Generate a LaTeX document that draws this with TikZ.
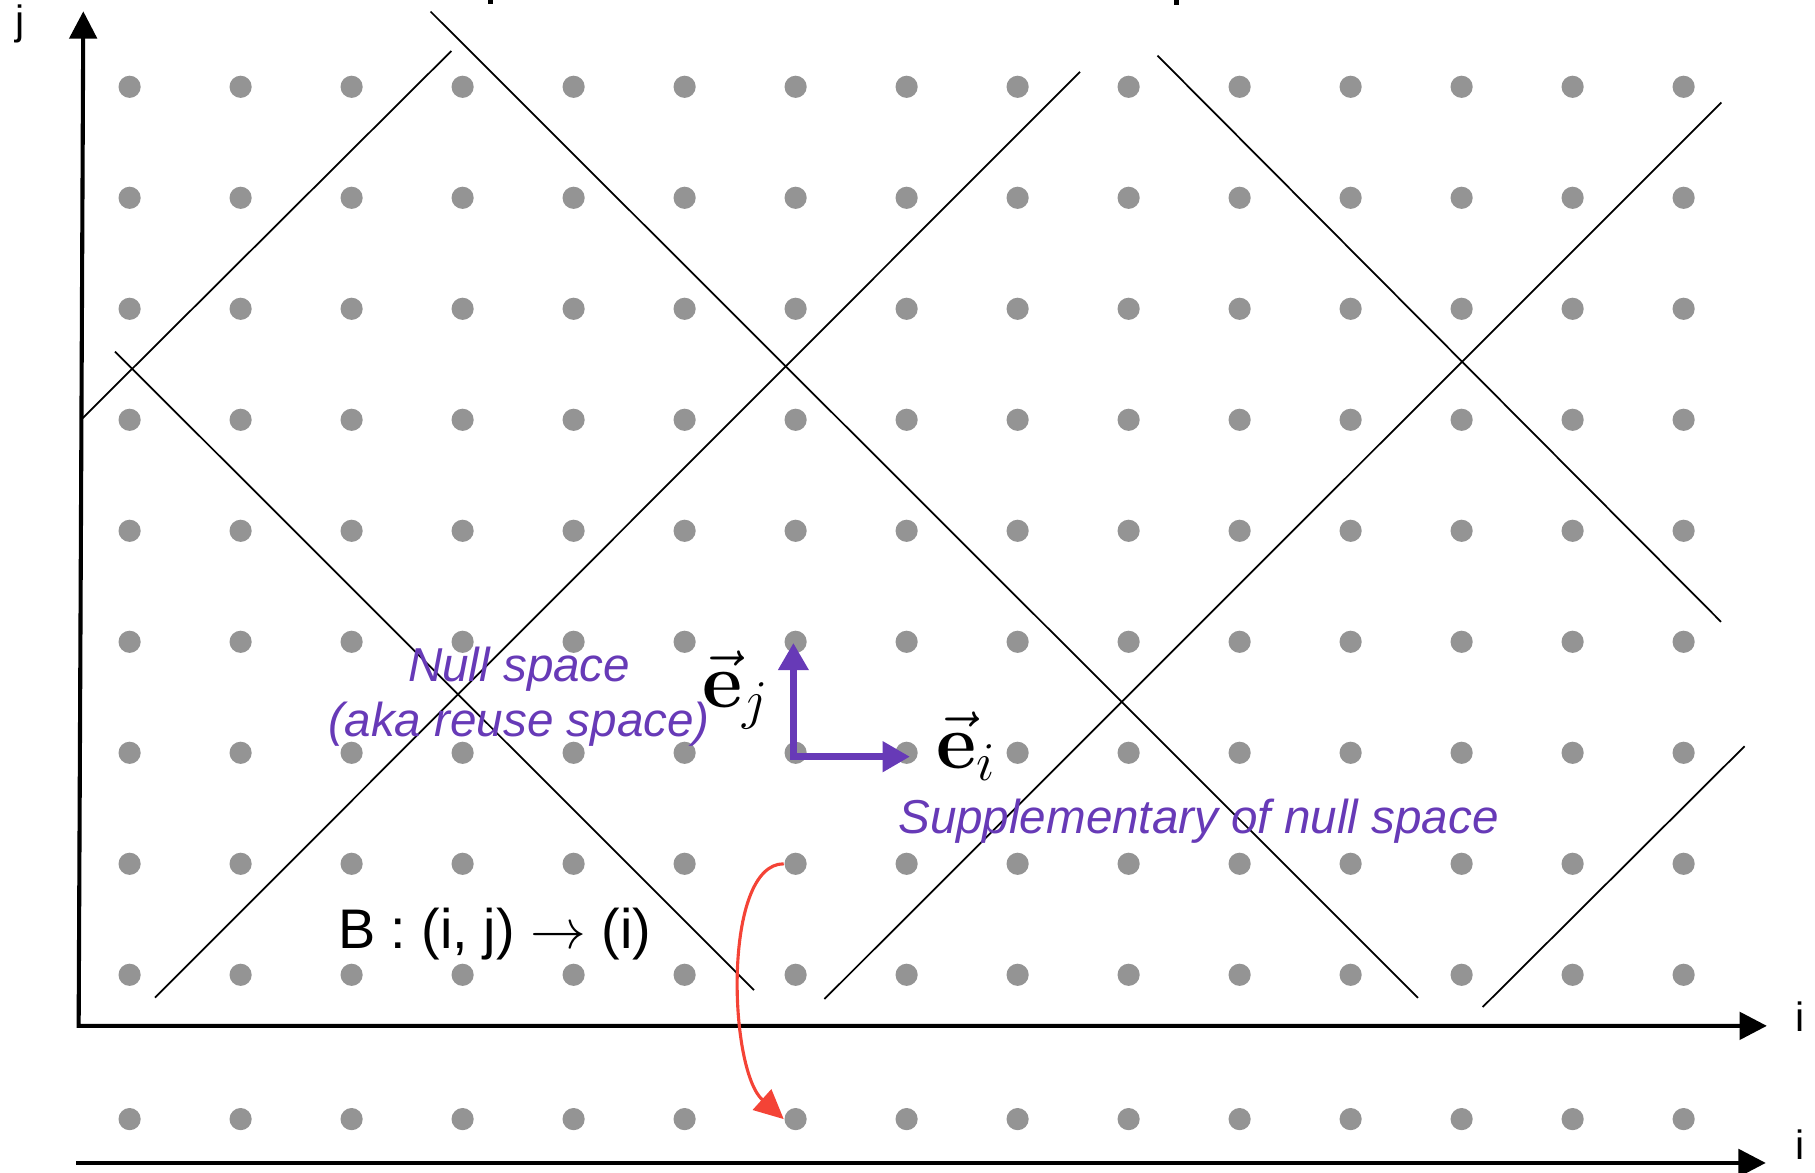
\documentclass[tikz,border=0pt]{standalone}
\usepackage{fix-cm}
\usepackage[no-math]{fontspec}
\setmainfont{Liberation Sans}
\usetikzlibrary{arrows.meta}
\definecolor{dotgray}{RGB}{148,148,148}
\definecolor{nullpurple}{RGB}{103,58,183}
\definecolor{mapred}{RGB}{244,67,54}

\begin{document}
\begin{tikzpicture}[
    dot/.style={circle, fill=dotgray, inner sep=0pt, minimum size=0.2cm},
    axis/.style={line width=1.05pt, {Triangle[length=7pt, width=7pt]}-{Triangle[length=7pt, width=7pt]}},
    axisline/.style={line width=1.05pt, -{Triangle[length=7pt, width=7pt]}},
    axislabel/.style={inner sep=0pt, font=\fontsize{10.5}{12}\selectfont},
    cut/.style={line width=0.45pt},
    basis/.style={line width=1.7pt, nullpurple, {Triangle[length=7pt, width=7.5pt]}-{Triangle[length=7pt, width=7.5pt]}},
    veclabel/.style={anchor=base west, inner sep=0pt, font=\fontsize{20}{24}\selectfont},
    purplelabel/.style={text=nullpurple, font=\fontsize{12.2}{13.9}\selectfont\itshape, align=center},
    maparrow/.style={line width=0.8pt, mapred, -{Triangle[length=7.5pt, width=7pt]}},
]
    \useasboundingbox (-1.1676,-1.7766) rectangle (15.1838,8.782);

    % Draw iteration domain
    \foreach \i in {0,...,14}
        \foreach \j in {0,...,8}
            \node[dot] (d-\i-\j) at (\i,\j) {};
    % Draw image of B
    \foreach \i in {0,...,14}
        \node[dot] (b-\i) at (\i,-1.3) {};

    % Axes
    \coordinate (O) at (-0.459,-0.46);
    \coordinate (jtip) at (-0.417,8.68);
    \coordinate (itip) at (14.75,-0.46);
    \coordinate (bstart) at (-0.479,-1.695);
    \coordinate (btip) at (14.74,-1.695);
    \draw[axis] (jtip) -- (O) -- (itip);
    \draw[axisline] (bstart) -- (btip);
    \node[axislabel, anchor=base] (jlab) at (-0.987,8.467) {j};
    \node[axislabel, anchor=base] (ilab) at (15.05,-0.515) {i};
    \node[axislabel, anchor=base] (blab) at (15.05,-1.668) {i};

    % Tiles of the null space
    \draw[cut] (2.711,8.678) -- (11.607,-0.207);
    \draw[cut] (2.899,8.323) -- (-0.432,5.006);
    \draw[cut] (8.562,8.135) -- (0.229,-0.206);
    \draw[cut] (-0.131,5.614) -- (5.625,-0.137);
    \draw[cut] (9.260,8.281) -- (14.337,3.18);
    \draw[cut] (14.34,7.858) -- (6.26,-0.218);
    \draw[cut] (14.549,2.059) -- (12.19,-0.29);

    % cut-off text above
    \fill (3.229,8.782) rectangle (3.270,8.742);
    \fill (9.41,8.782) rectangle (9.451,8.737);

    % Basis vectors
    \coordinate (eo) at (5.98,1.965);
    \coordinate (ej) at (5.98,2.99);
    \coordinate (ei) at (7.03,1.965);
    \draw[basis] (ej) -- (eo) -- (ei);
    \node[veclabel] (ejlab) at (5.15,2.41) {$\vec{\mathbf{e}}_j$};
    \node[veclabel] (eilab) at (7.26,1.86) {$\vec{\mathbf{e}}_i$};

    % Labels
    \node[purplelabel, anchor=base] (null) at (3.51,2.15) {Null space\\(aka reuse space)};
    \node[purplelabel, anchor=base] (supp) at (9.63,1.275) {Supplementary of null space};
    \node[anchor=base, inner sep=0pt, font=\fontsize{14.3}{16}\selectfont] (bmap) at (3.29,0.239) {B : (i, j) $\rightarrow$ (i)};

    % Projection along the null space
    \draw[maparrow] (d-6-1.west) .. controls +(-0.55,0) and +(-0.5,0.45) .. (b-6.west);
\end{tikzpicture}
\end{document}
